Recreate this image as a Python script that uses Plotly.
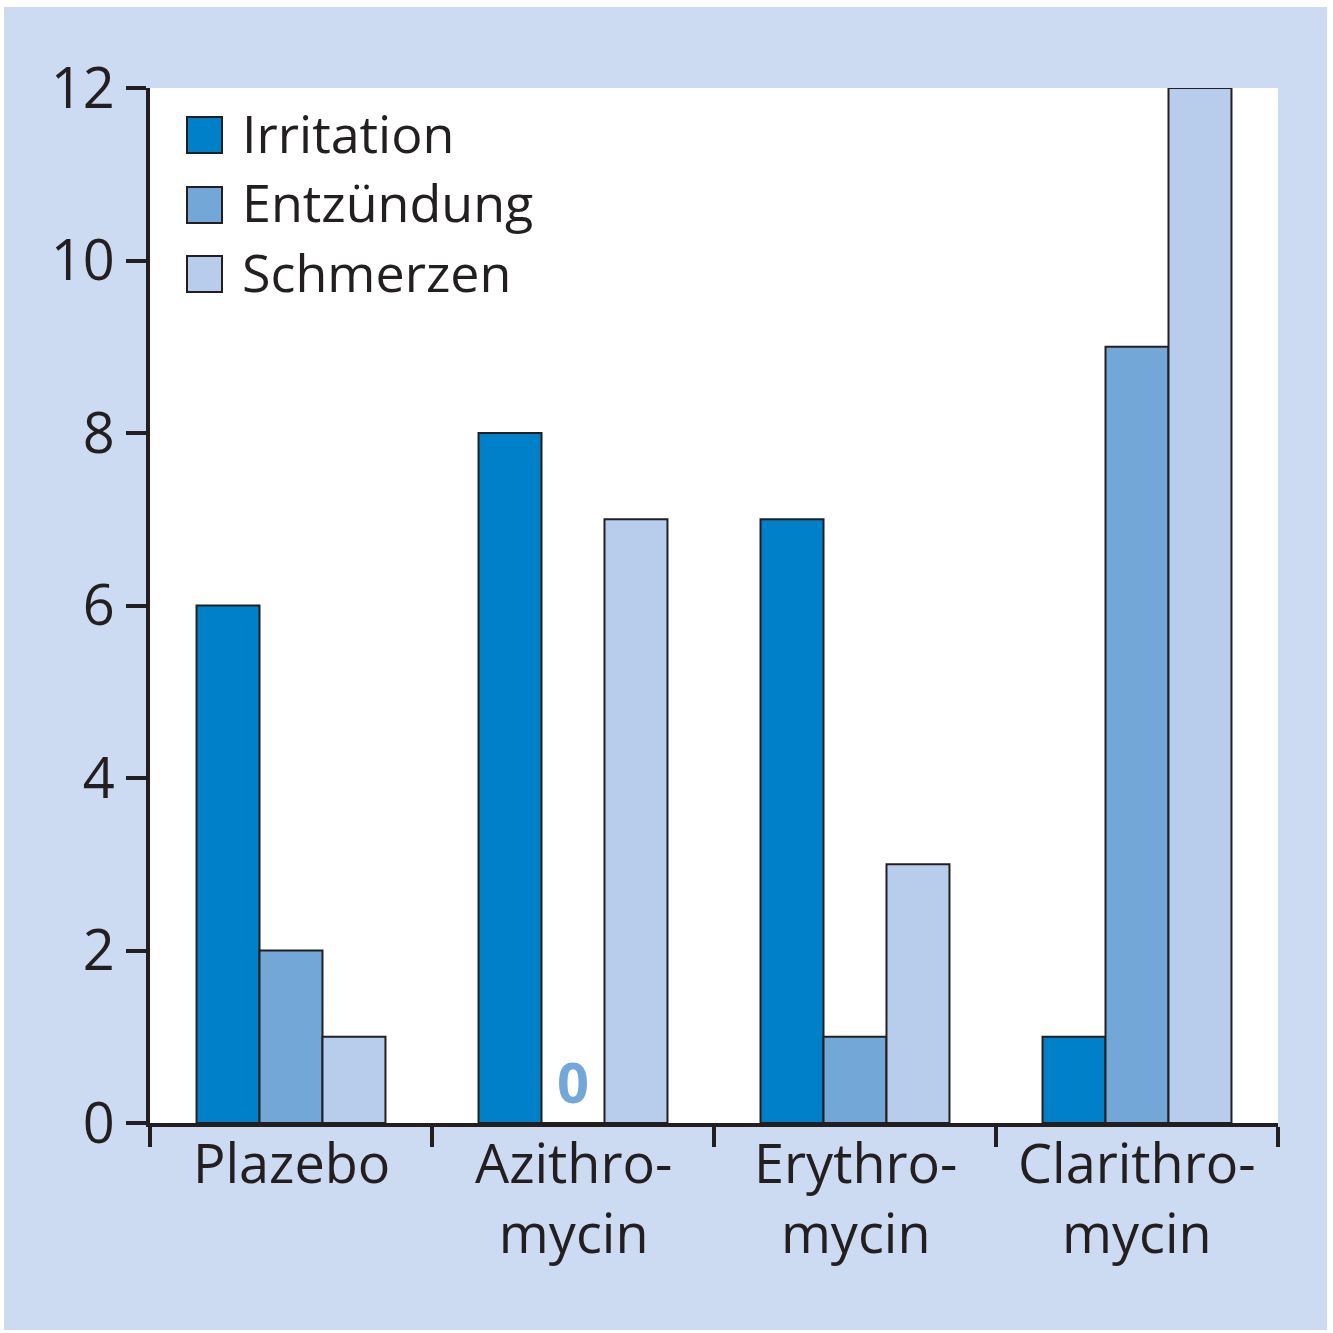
import plotly.graph_objects as go

categories = ["Plazebo", "Azithro-<br>mycin", "Erythro-<br>mycin", "Clarithro-<br>mycin"]
series_names = ["Irritation", "Entzündung", "Schmerzen"]
irritation = [6, 8, 7, 1]
entzuendung = [2, 0, 1, 9]
schmerzen = [1, 7, 3, 12]
y_ticks = [0, 2, 4, 6, 8, 10, 12]

colors = ["#0080c8", "#72a7d8", "#b7cdeb"]
ink = "#231f20"
bg = "#ccdbf1"
W, H = 1333, 1333
L, R, T, B = 150, 55, 88, 210
pw, ph = W - L - R, H - T - B

def px(x):
    return (x - L) / pw

def py(y):
    return (H - B - y) / ph

fig = go.Figure()
for name, vals, col in zip(series_names, [irritation, entzuendung, schmerzen], colors):
    fig.add_trace(go.Bar(x=categories, y=vals, name=name, marker=dict(color=col, line=dict(color=ink, width=2)),
                         showlegend=False))

shapes = [
    dict(type="rect", xref="paper", yref="paper", x0=px(4), x1=px(1327), y0=py(1330), y1=py(7),
         fillcolor=bg, line=dict(width=0), layer="below"),
    dict(type="rect", xref="paper", yref="paper", x0=0, x1=1, y0=0, y1=1,
         fillcolor="white", line=dict(width=0), layer="below"),
]
annotations = []
leg_y = [135, 205, 274]
for name, col, yc in zip(series_names, colors, leg_y):
    shapes.append(dict(type="rect", xref="paper", yref="paper", x0=px(187), x1=px(222), y0=py(yc + 18), y1=py(yc - 18),
                       fillcolor=col, line=dict(color=ink, width=2), layer="above"))
    annotations.append(dict(x=px(240), y=py(yc - 3), xref="paper", yref="paper", text=name, showarrow=False,
                            xanchor="left", yanchor="middle", font=dict(size=52, color=ink)))

for cat in categories:
    annotations.append(dict(x=cat, y=py(1123), xref="x", yref="paper", text=cat, showarrow=False,
                            xanchor="center", yanchor="top", font=dict(size=54, color=ink)))

annotations.append(dict(x=categories[1], y=0, xref="x", yref="y", text="<b>0</b>", showarrow=False,
                        xanchor="center", yanchor="bottom", yshift=2, font=dict(size=56, color="#72a7d8")))

fig.update_layout(
    width=W, height=H,
    margin=dict(l=L, r=R, t=T, b=B),
    paper_bgcolor="white", plot_bgcolor="rgba(0,0,0,0)",
    font=dict(family="Open Sans", size=54, color=ink),
    barmode="group", bargap=0.33, bargroupgap=0,
    shapes=shapes, annotations=annotations,
    showlegend=False,
)
fig.update_xaxes(showgrid=False, showline=True, linecolor=ink, linewidth=4,
                 ticks="outside", tickson="boundaries", ticklen=20, tickwidth=4, tickcolor=ink,
                 showticklabels=False, zeroline=False)
fig.update_yaxes(range=[0, 12], tickvals=y_ticks, showgrid=False, showline=True, linecolor=ink, linewidth=4,
                 ticks="outside", ticklen=20, tickwidth=4, tickcolor=ink, zeroline=False,
                 tickfont=dict(size=56, color=ink))

fig.write_html("out.html", config={"displayModeBar": False},
               post_script="document.body.style.margin='0';")
